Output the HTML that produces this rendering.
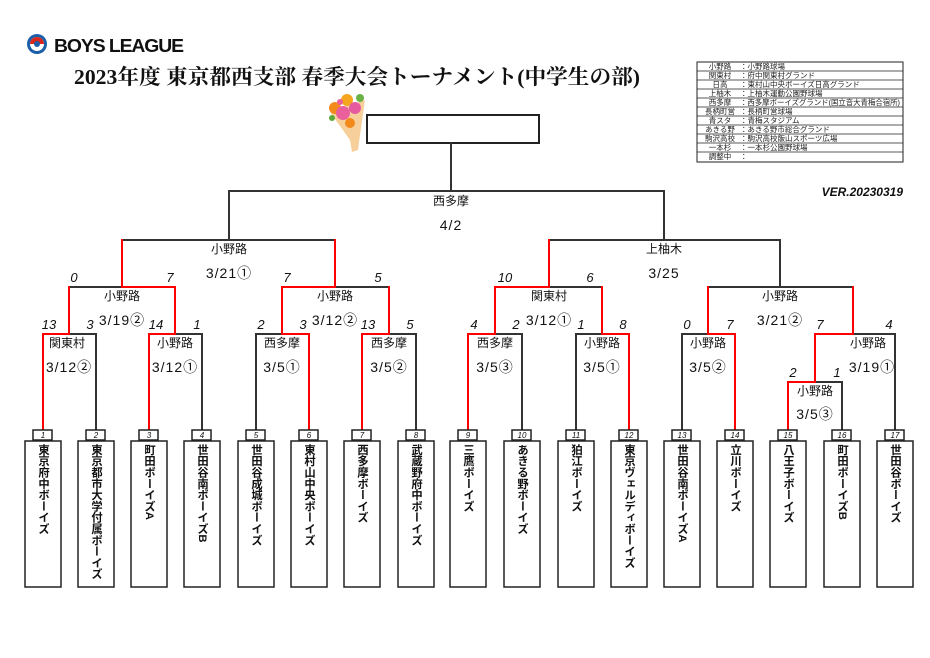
<!DOCTYPE html>
<html><head><meta charset="utf-8"><style>
html,body{margin:0;padding:0;background:#fff;}
svg{display:block;}
.t{font-family:"Liberation Sans","Noto Sans CJK JP",sans-serif;fill:#111;}
.v{font-size:12px;text-anchor:middle;}
.d{font-size:14px;text-anchor:middle;letter-spacing:1px;}
.s{font-size:13px;font-style:italic;text-anchor:middle;}
.n{font-size:8px;font-style:italic;text-anchor:middle;}
.lg{font-size:7.5px;fill:#222;}
.tm{font-family:"Liberation Sans","Noto Sans CJK JP",sans-serif;font-size:11.3px;font-weight:bold;writing-mode:vertical-rl;position:absolute;top:444px;width:36px;text-align:center;line-height:36px;color:#111;}
</style></head><body>
<div style="position:relative;width:930px;height:658px;overflow:hidden">
<svg width="930" height="658" viewBox="0 0 930 658" xmlns="http://www.w3.org/2000/svg">
<circle cx="37" cy="44" r="10" fill="#1c5fa8"/>
<circle cx="37" cy="44" r="7" fill="#fff"/>
<path d="M30 44 A7 7 0 0 1 44 44 Z" fill="#d8261c"/>
<circle cx="37" cy="44" r="3" fill="#1c5fa8"/>
<text x="54" y="52" style="font-family:'Liberation Sans',sans-serif;font-weight:900;font-size:18px;letter-spacing:-1px" fill="#111" textLength="129" lengthAdjust="spacingAndGlyphs">BOYS LEAGUE</text>
<text x="74" y="84" style="font-family:'Liberation Serif','Noto Serif CJK SC',serif;font-weight:bold;font-size:21px" fill="#111" textLength="566" lengthAdjust="spacingAndGlyphs">2023年度 東京都西支部 春季大会トーナメント(中学生の部)</text>
<path d="M330 112 L365 100 L360 135 L358 150 L352 152 L350 140 Z" fill="#f6cf9a"/>
<circle cx="335" cy="108" r="6" fill="#f28a1c"/><circle cx="347" cy="100" r="6" fill="#f5a51e"/>
<circle cx="343" cy="113" r="7" fill="#e9609c"/><circle cx="355" cy="108" r="6" fill="#e65aa2"/>
<circle cx="360" cy="98" r="4" fill="#6bb244"/><circle cx="332" cy="118" r="3" fill="#5aa83a"/>
<circle cx="350" cy="123" r="5" fill="#f28a1c"/><circle cx="340" cy="102" r="3" fill="#e9609c"/>
<g class="t lg">
<rect x="697" y="62" width="206" height="100" fill="none" stroke="#222" stroke-width="1"/>
<g stroke="#222" stroke-width="0.8">
<line x1="697" y1="71" x2="903" y2="71"/><line x1="697" y1="80" x2="903" y2="80"/><line x1="697" y1="89" x2="903" y2="89"/><line x1="697" y1="98" x2="903" y2="98"/><line x1="697" y1="107" x2="903" y2="107"/><line x1="697" y1="116" x2="903" y2="116"/><line x1="697" y1="125" x2="903" y2="125"/><line x1="697" y1="134" x2="903" y2="134"/><line x1="697" y1="143" x2="903" y2="143"/><line x1="697" y1="152" x2="903" y2="152"/>
</g>
<text x="720" y="69" text-anchor="middle">小野路</text><text x="740" y="69">：小野路球場</text>
<text x="720" y="78" text-anchor="middle">関東村</text><text x="740" y="78">：府中関東村グランド</text>
<text x="720" y="87" text-anchor="middle">日高</text><text x="740" y="87">：東村山中央ボーイズ日高グランド</text>
<text x="720" y="96" text-anchor="middle">上柚木</text><text x="740" y="96">：上柚木運動公園野球場</text>
<text x="720" y="105" text-anchor="middle">西多摩</text><text x="740" y="105" textLength="160" lengthAdjust="spacingAndGlyphs">：西多摩ボーイズグランド(国立音大青梅合宿所)</text>
<text x="720" y="114" text-anchor="middle">長柄町営</text><text x="740" y="114">：長柄町営球場</text>
<text x="720" y="123" text-anchor="middle">青スタ</text><text x="740" y="123">：青梅スタジアム</text>
<text x="720" y="132" text-anchor="middle">あきる野</text><text x="740" y="132">：あきる野市総合グランド</text>
<text x="720" y="141" text-anchor="middle">駒沢高校</text><text x="740" y="141">：駒沢高校飯山スポーツ広場</text>
<text x="720" y="150" text-anchor="middle">一本杉</text><text x="740" y="150">：一本杉公園野球場</text>
<text x="720" y="159" text-anchor="middle">調整中</text><text x="740" y="159">：</text>
</g>
<text x="903" y="196" text-anchor="end" style="font-family:'Liberation Sans',sans-serif;font-style:italic;font-weight:bold;font-size:12px" fill="#111">VER.20230319</text>
<rect x="367" y="115" width="172" height="28" fill="none" stroke="#222" stroke-width="2"/>
<g stroke-width="2" fill="none" stroke-linecap="square">
<g stroke="#333">
<line x1="451" y1="143" x2="451" y2="191"/>
<line x1="229" y1="191" x2="664" y2="191"/>
<line x1="229" y1="191" x2="229" y2="240"/><line x1="664" y1="191" x2="664" y2="240"/>
<line x1="122" y1="240" x2="335" y2="240"/><line x1="549" y1="240" x2="780" y2="240"/>
<line x1="780" y1="240" x2="780" y2="287"/>
<line x1="69" y1="287" x2="122" y2="287"/><line x1="335" y1="287" x2="389" y2="287"/><line x1="549" y1="287" x2="602" y2="287"/><line x1="708" y1="287" x2="853" y2="287"/>
<line x1="96" y1="334" x2="96" y2="430"/><line x1="69" y1="334" x2="96" y2="334"/>
<line x1="202" y1="334" x2="202" y2="430"/><line x1="175" y1="334" x2="202" y2="334"/>
<line x1="256" y1="334" x2="256" y2="430"/><line x1="256" y1="334" x2="282" y2="334"/>
<line x1="416" y1="334" x2="416" y2="430"/><line x1="389" y1="334" x2="416" y2="334"/>
<line x1="522" y1="334" x2="522" y2="430"/><line x1="495" y1="334" x2="522" y2="334"/>
<line x1="576" y1="334" x2="576" y2="430"/><line x1="576" y1="334" x2="602" y2="334"/>
<line x1="682" y1="334" x2="682" y2="430"/><line x1="682" y1="334" x2="708" y2="334"/>
<line x1="842" y1="382" x2="842" y2="430"/><line x1="815" y1="382" x2="842" y2="382"/>
<line x1="895" y1="334" x2="895" y2="430"/><line x1="853" y1="334" x2="895" y2="334"/>
</g>
<g stroke="#f00">
<line x1="122" y1="240" x2="122" y2="287"/><line x1="335" y1="240" x2="335" y2="287"/><line x1="549" y1="240" x2="549" y2="287"/>
<line x1="122" y1="287" x2="175" y2="287"/><line x1="69" y1="287" x2="69" y2="334"/><line x1="175" y1="287" x2="175" y2="334"/>
<line x1="282" y1="287" x2="335" y2="287"/><line x1="282" y1="287" x2="282" y2="334"/><line x1="389" y1="287" x2="389" y2="334"/>
<line x1="495" y1="287" x2="549" y2="287"/><line x1="495" y1="287" x2="495" y2="334"/><line x1="602" y1="287" x2="602" y2="334"/>
<line x1="708" y1="287" x2="708" y2="334"/><line x1="853" y1="287" x2="853" y2="334"/>
<line x1="43" y1="334" x2="69" y2="334"/><line x1="43" y1="334" x2="43" y2="430"/>
<line x1="149" y1="334" x2="175" y2="334"/><line x1="149" y1="334" x2="149" y2="430"/>
<line x1="282" y1="334" x2="309" y2="334"/><line x1="309" y1="334" x2="309" y2="430"/>
<line x1="362" y1="334" x2="389" y2="334"/><line x1="362" y1="334" x2="362" y2="430"/>
<line x1="468" y1="334" x2="495" y2="334"/><line x1="468" y1="334" x2="468" y2="430"/>
<line x1="602" y1="334" x2="629" y2="334"/><line x1="629" y1="334" x2="629" y2="430"/>
<line x1="708" y1="334" x2="735" y2="334"/><line x1="735" y1="334" x2="735" y2="430"/>
<line x1="815" y1="334" x2="853" y2="334"/><line x1="815" y1="334" x2="815" y2="382"/>
<line x1="788" y1="382" x2="815" y2="382"/><line x1="788" y1="382" x2="788" y2="430"/>
</g>
</g>
<g class="t">
<text class="v" x="451" y="205">西多摩</text><text class="d" x="451" y="230">4/2</text>
<text class="v" x="229" y="253">小野路</text><text class="d" x="229" y="278">3/21①</text>
<text class="v" x="664" y="253">上柚木</text><text class="d" x="664" y="278">3/25</text>
<text class="v" x="122" y="300">小野路</text><text class="d" x="122" y="325">3/19②</text>
<text class="v" x="335" y="300">小野路</text><text class="d" x="335" y="325">3/12②</text>
<text class="v" x="549" y="300">関東村</text><text class="d" x="549" y="325">3/12①</text>
<text class="v" x="780" y="300">小野路</text><text class="d" x="780" y="325">3/21②</text>
<text class="v" x="67" y="347">関東村</text><text class="d" x="69" y="372">3/12②</text>
<text class="v" x="175" y="347">小野路</text><text class="d" x="175" y="372">3/12①</text>
<text class="v" x="282" y="347">西多摩</text><text class="d" x="282" y="372">3/5①</text>
<text class="v" x="389" y="347">西多摩</text><text class="d" x="389" y="372">3/5②</text>
<text class="v" x="495" y="347">西多摩</text><text class="d" x="495" y="372">3/5③</text>
<text class="v" x="602" y="347">小野路</text><text class="d" x="602" y="372">3/5①</text>
<text class="v" x="708" y="347">小野路</text><text class="d" x="708" y="372">3/5②</text>
<text class="v" x="868" y="347">小野路</text><text class="d" x="872" y="372">3/19①</text>
<text class="v" x="815" y="395">小野路</text><text class="d" x="815" y="419">3/5③</text>
<text class="s" x="74" y="282">0</text><text class="s" x="170" y="282">7</text>
<text class="s" x="287" y="282">7</text><text class="s" x="378" y="282">5</text>
<text class="s" x="505" y="282">10</text><text class="s" x="590" y="282">6</text>
<text class="s" x="49" y="329">13</text><text class="s" x="90" y="329">3</text>
<text class="s" x="156" y="329">14</text><text class="s" x="197" y="329">1</text>
<text class="s" x="261" y="329">2</text><text class="s" x="303" y="329">3</text>
<text class="s" x="368" y="329">13</text><text class="s" x="410" y="329">5</text>
<text class="s" x="474" y="329">4</text><text class="s" x="516" y="329">2</text>
<text class="s" x="581" y="329">1</text><text class="s" x="623" y="329">8</text>
<text class="s" x="687" y="329">0</text><text class="s" x="730" y="329">7</text>
<text class="s" x="820" y="329">7</text><text class="s" x="889" y="329">4</text>
<text class="s" x="793" y="377">2</text><text class="s" x="837" y="377">1</text>
</g>
<g fill="#fff" stroke="#222" stroke-width="1.5">
<rect x="33" y="430" width="19" height="10"/><rect x="25" y="441" width="36" height="146"/>
<rect x="86" y="430" width="19" height="10"/><rect x="78" y="441" width="36" height="146"/>
<rect x="139" y="430" width="19" height="10"/><rect x="131" y="441" width="36" height="146"/>
<rect x="192" y="430" width="19" height="10"/><rect x="184" y="441" width="36" height="146"/>
<rect x="246" y="430" width="19" height="10"/><rect x="238" y="441" width="36" height="146"/>
<rect x="299" y="430" width="19" height="10"/><rect x="291" y="441" width="36" height="146"/>
<rect x="352" y="430" width="19" height="10"/><rect x="344" y="441" width="36" height="146"/>
<rect x="406" y="430" width="19" height="10"/><rect x="398" y="441" width="36" height="146"/>
<rect x="458" y="430" width="19" height="10"/><rect x="450" y="441" width="36" height="146"/>
<rect x="512" y="430" width="19" height="10"/><rect x="504" y="441" width="36" height="146"/>
<rect x="566" y="430" width="19" height="10"/><rect x="558" y="441" width="36" height="146"/>
<rect x="619" y="430" width="19" height="10"/><rect x="611" y="441" width="36" height="146"/>
<rect x="672" y="430" width="19" height="10"/><rect x="664" y="441" width="36" height="146"/>
<rect x="725" y="430" width="19" height="10"/><rect x="717" y="441" width="36" height="146"/>
<rect x="778" y="430" width="19" height="10"/><rect x="770" y="441" width="36" height="146"/>
<rect x="832" y="430" width="19" height="10"/><rect x="824" y="441" width="36" height="146"/>
<rect x="885" y="430" width="19" height="10"/><rect x="877" y="441" width="36" height="146"/>
</g>
<g class="t">
<text class="n" x="43" y="438">1</text><text class="n" x="96" y="438">2</text><text class="n" x="149" y="438">3</text><text class="n" x="202" y="438">4</text><text class="n" x="256" y="438">5</text><text class="n" x="309" y="438">6</text><text class="n" x="362" y="438">7</text><text class="n" x="416" y="438">8</text><text class="n" x="468" y="438">9</text><text class="n" x="522" y="438">10</text><text class="n" x="576" y="438">11</text><text class="n" x="629" y="438">12</text><text class="n" x="682" y="438">13</text><text class="n" x="735" y="438">14</text><text class="n" x="788" y="438">15</text><text class="n" x="842" y="438">16</text><text class="n" x="895" y="438">17</text>
</g>
</svg>
<div class="tm" style="left:25px">東京府中ボーイズ</div>
<div class="tm" style="left:78px">東京都市大学付属ボーイズ</div>
<div class="tm" style="left:131px">町田ボーイズA</div>
<div class="tm" style="left:184px">世田谷南ボーイズB</div>
<div class="tm" style="left:238px">世田谷成城ボーイズ</div>
<div class="tm" style="left:291px">東村山中央ボーイズ</div>
<div class="tm" style="left:344px">西多摩ボーイズ</div>
<div class="tm" style="left:398px">武蔵野府中ボーイズ</div>
<div class="tm" style="left:450px">三鷹ボーイズ</div>
<div class="tm" style="left:504px">あきる野ボーイズ</div>
<div class="tm" style="left:558px">狛江ボーイズ</div>
<div class="tm" style="left:611px">東京ヴェルディボーイズ</div>
<div class="tm" style="left:664px">世田谷南ボーイズA</div>
<div class="tm" style="left:717px">立川ボーイズ</div>
<div class="tm" style="left:770px">八王子ボーイズ</div>
<div class="tm" style="left:824px">町田ボーイズB</div>
<div class="tm" style="left:877px">世田谷ボーイズ</div>
</div>
</body></html>
